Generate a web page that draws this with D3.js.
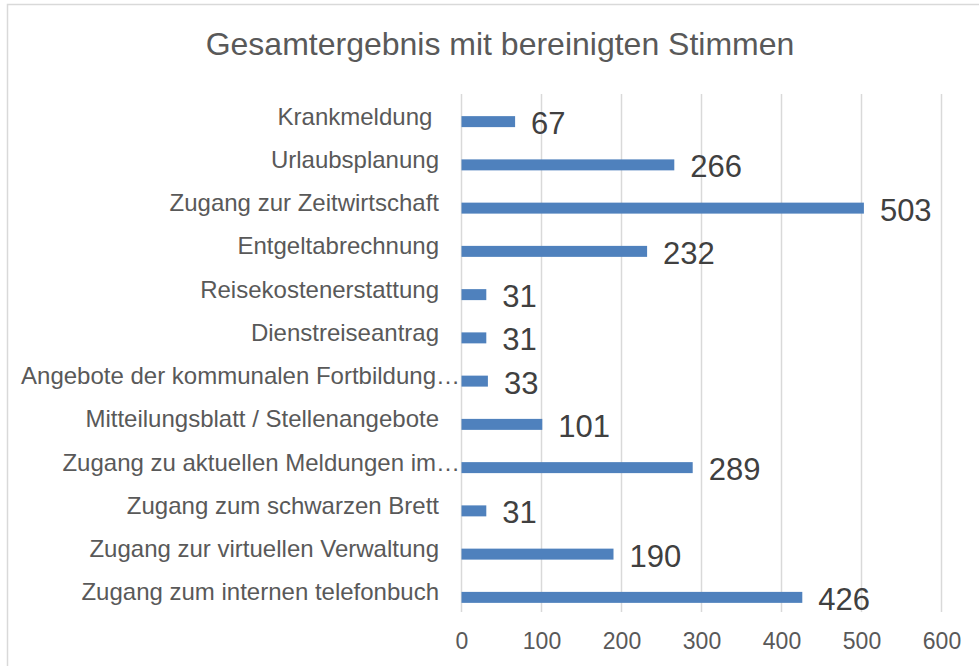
<!DOCTYPE html>
<html>
<head>
<meta charset="utf-8">
<script src="https://cdn.jsdelivr.net/npm/d3@7"></script>
<style>
  html, body { margin: 0; padding: 0; background: #fff; }
  svg { display: block; font-family: "Liberation Sans", Arial, sans-serif; }
</style>
</head>
<body>
<svg id="chart" width="979" height="666"></svg>
<script>
const categories = [
  "Krankmeldung ",
  "Urlaubsplanung",
  "Zugang zur Zeitwirtschaft",
  "Entgeltabrechnung",
  "Reisekostenerstattung",
  "Dienstreiseantrag",
  "Angebote der kommunalen Fortbildung…",
  "Mitteilungsblatt / Stellenangebote",
  "Zugang zu aktuellen Meldungen im…",
  "Zugang zum schwarzen Brett",
  "Zugang zur virtuellen Verwaltung",
  "Zugang zum internen telefonbuch"
];

const votes = [67, 266, 503, 232, 31, 31, 33, 101, 289, 31, 190, 426];

const xTicks = [0, 100, 200, 300, 400, 500, 600];

const chartTitle = "Gesamtergebnis mit bereinigten Stimmen";

(function drawChart() {
  const svg = d3.select("#chart");

  const data = categories.map((c, i) => ({ category: c, value: votes[i] }));

  const x = d3.scaleLinear()
    .domain([0, 600])
    .range([461.5, 941.5]);

  const y = d3.scaleBand()
    .domain(categories)
    .range([100, 619])
    .paddingInner(0.746)
    .paddingOuter(0.373);

  // outer frame
  svg.append("rect")
    .attr("x", 7.5)
    .attr("y", 4.5)
    .attr("width", 1000)
    .attr("height", 700)
    .attr("fill", "#fff")
    .attr("stroke", "#d9d9d9")
    .attr("stroke-width", 1.5);

  svg.append("text")
    .attr("x", 500)
    .attr("y", 55)
    .attr("text-anchor", "middle")
    .attr("font-size", "32px")
    .attr("fill", "#595959")
    .text(chartTitle);

  // vertical gridlines
  svg.append("g")
    .selectAll("line")
    .data(xTicks)
    .enter()
    .append("line")
    .attr("x1", d => x(d))
    .attr("x2", d => x(d))
    .attr("y1", 94)
    .attr("y2", 612)
    .attr("stroke", "#d9d9d9")
    .attr("stroke-width", 1.5);

  // x axis tick labels
  const xAxis = svg.append("g")
    .attr("transform", "translate(0,649)")
    .call(d3.axisBottom(x).tickValues(xTicks).tickSize(0).tickPadding(0));
  xAxis.select(".domain").remove();
  xAxis.selectAll("text")
    .attr("y", 0)
    .attr("dy", null)
    .attr("font-size", "23px")
    .attr("font-family", "Liberation Sans, Arial, sans-serif")
    .attr("fill", "#595959");

  // bars
  svg.append("g")
    .selectAll("rect")
    .data(data)
    .enter()
    .append("rect")
    .attr("x", x(0))
    .attr("y", d => y(d.category))
    .attr("width", d => x(d.value) - x(0))
    .attr("height", y.bandwidth())
    .attr("fill", "#4f81bd");

  // category labels (truncated ones run up to the axis)
  svg.append("g")
    .selectAll("text")
    .data(data)
    .enter()
    .append("text")
    .attr("x", d => d.category.endsWith("…") ? 460 : 439)
    .attr("y", d => y(d.category) + y.bandwidth() / 2 + 3)
    .attr("text-anchor", "end")
    .attr("font-size", "24px")
    .attr("fill", "#595959")
    .style("white-space", "pre")
    .text(d => d.category);

  // value labels
  svg.append("g")
    .selectAll("text")
    .data(data)
    .enter()
    .append("text")
    .attr("x", d => x(d.value) + 16)
    .attr("y", d => y(d.category) + y.bandwidth() / 2 + 12.6)
    .attr("font-size", "31px")
    .attr("fill", "#404040")
    .text(d => d.value);
})();
</script>
</body>
</html>
